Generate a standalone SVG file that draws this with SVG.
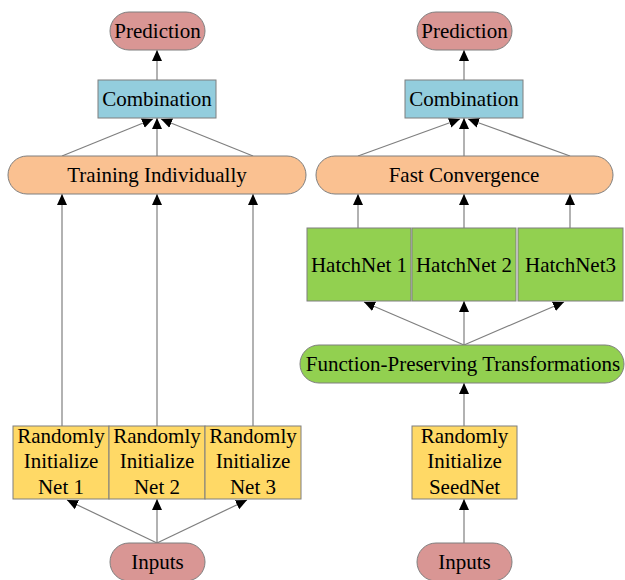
<svg xmlns="http://www.w3.org/2000/svg" width="625" height="580" viewBox="0 0 625 580">
<defs>
<marker id="ah" markerUnits="userSpaceOnUse" markerWidth="12" markerHeight="12" refX="11" refY="5" orient="auto" viewBox="0 0 12 10">
<path d="M0,0 L11,5 L0,10 Z" fill="#000"/>
</marker>
</defs>
<style>
text{font-family:"Liberation Serif","Times New Roman",serif;font-size:21px;fill:#000;text-anchor:middle}
.n{stroke:#7f7f7f;stroke-width:1}
.pred{fill:#d99694}
.comb{fill:#93cddd}
.tr{fill:#fac191}
.hn{fill:#92d050}
.ri{fill:#ffd966}
.c line{stroke:#7f7f7f;stroke-width:1.2;marker-end:url(#ah)}
</style>
<rect width="625" height="580" fill="#fff"/>
<g class="c" id="connectors">
<line x1="157" y1="80" x2="157" y2="50"/>
<line x1="62" y1="156" x2="153" y2="119"/>
<line x1="157" y1="156" x2="157" y2="118"/>
<line x1="253" y1="156" x2="161" y2="119"/>
<line x1="62" y1="426" x2="62" y2="194"/>
<line x1="157" y1="426" x2="157" y2="194"/>
<line x1="253" y1="426" x2="253" y2="194"/>
<line x1="157" y1="543" x2="67" y2="500"/>
<line x1="157" y1="543" x2="157" y2="499"/>
<line x1="157" y1="543" x2="247" y2="500"/>
<line x1="464" y1="80" x2="464" y2="50"/>
<line x1="358" y1="156" x2="460" y2="119"/>
<line x1="464" y1="156" x2="464" y2="118"/>
<line x1="570" y1="156" x2="468" y2="119"/>
<line x1="358" y1="228" x2="358" y2="194"/>
<line x1="464" y1="228" x2="464" y2="194"/>
<line x1="570" y1="228" x2="570" y2="194"/>
<line x1="464" y1="345" x2="364" y2="302"/>
<line x1="464" y1="345" x2="464" y2="301"/>
<line x1="464" y1="345" x2="564" y2="302"/>
<line x1="464" y1="426" x2="464" y2="383"/>
<line x1="464" y1="543" x2="464" y2="499"/>
</g>
<g id="pred-left"><rect class="n pred" x="110" y="12" width="95" height="38" rx="19"/><text x="157.5" y="38">Prediction</text></g>
<g id="comb-left"><rect class="n comb" x="98" y="80" width="118" height="38"/><text x="157" y="106">Combination</text></g>
<g id="train-left"><rect class="n tr" x="8" y="156" width="298" height="38" rx="19"/><text x="157" y="182">Training Individually</text></g>
<g id="rand1"><rect class="n ri" x="13" y="426" width="96" height="73"/><text x="61" y="443">Randomly</text><text x="61" y="468">Initialize</text><text x="61" y="494">Net 1</text></g>
<g id="rand2"><rect class="n ri" x="109" y="426" width="96" height="73"/><text x="157" y="443">Randomly</text><text x="157" y="468">Initialize</text><text x="157" y="494">Net 2</text></g>
<g id="rand3"><rect class="n ri" x="205" y="426" width="96" height="73"/><text x="253" y="443">Randomly</text><text x="253" y="468">Initialize</text><text x="253" y="494">Net 3</text></g>
<g id="inputs-left"><rect class="n pred" x="110" y="543" width="95" height="38" rx="19"/><text x="157.5" y="569">Inputs</text></g>
<g id="pred-right"><rect class="n pred" x="417" y="12" width="95" height="38" rx="19"/><text x="464.5" y="38">Prediction</text></g>
<g id="comb-right"><rect class="n comb" x="405" y="80" width="118" height="38"/><text x="464" y="106">Combination</text></g>
<g id="fast"><rect class="n tr" x="316" y="156" width="297" height="38" rx="19"/><text x="464" y="182">Fast Convergence</text></g>
<g id="hatch1"><rect class="n hn" x="307" y="228" width="104" height="73"/><text x="359" y="272">HatchNet 1</text></g>
<g id="hatch2"><rect class="n hn" x="412" y="228" width="104" height="73"/><text x="464" y="272">HatchNet 2</text></g>
<g id="hatch3"><rect class="n hn" x="518" y="228" width="105" height="73"/><text x="570.5" y="272">HatchNet3</text></g>
<g id="fpt"><rect class="n hn" x="300" y="345" width="324" height="38" rx="19"/><text x="463" y="371">Function-Preserving Transformations</text></g>
<g id="seed"><rect class="n ri" x="412" y="426" width="105" height="73"/><text x="464.5" y="443">Randomly</text><text x="464.5" y="468">Initialize</text><text x="464.5" y="494">SeedNet</text></g>
<g id="inputs-right"><rect class="n pred" x="417" y="543" width="95" height="38" rx="19"/><text x="464.5" y="569">Inputs</text></g>
</svg>
